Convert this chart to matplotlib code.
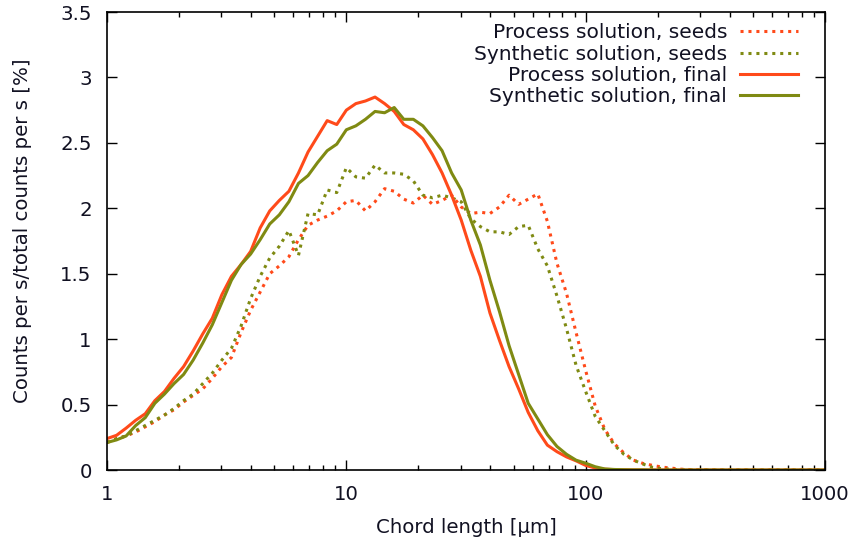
import matplotlib
matplotlib.use("Agg")
import matplotlib.pyplot as plt
from matplotlib.ticker import LogLocator, FixedLocator, NullFormatter

# Chord length channels [um] (logarithmic binning, 25 channels per decade)
chord_um = [
    1.000, 1.096, 1.202, 1.318, 1.445, 1.585, 1.738, 1.905, 2.089, 2.291,
    2.512, 2.754, 3.020, 3.311, 3.631, 3.981, 4.365, 4.786, 5.248, 5.754,
    6.310, 6.918, 7.586, 8.318, 9.120, 10.00, 10.96, 12.02, 13.18, 14.45,
    15.85, 17.38, 19.05, 20.89, 22.91, 25.12, 27.54, 30.20, 33.11, 36.31,
    39.81, 43.65, 47.86, 52.48, 57.54, 63.10, 69.18, 75.86, 83.18, 91.20,
    100.0, 109.6, 120.2, 131.8, 144.5, 158.5, 173.8, 190.5, 208.9, 229.1,
    251.2, 275.4, 302.0, 331.1, 363.1, 398.1, 436.5, 478.6, 524.8, 575.4,
    631.0, 691.8, 758.6, 831.8, 912.0, 1000.0,
]

process_seeds = [
    0.21, 0.24, 0.26, 0.29, 0.33, 0.37, 0.42, 0.46, 0.52, 0.57,
    0.62, 0.70, 0.79, 0.86, 1.05, 1.22, 1.36, 1.50, 1.56, 1.63,
    1.76, 1.87, 1.91, 1.94, 1.98, 2.05, 2.06, 1.98, 2.05, 2.15,
    2.13, 2.07, 2.04, 2.10, 2.03, 2.06, 2.10, 2.01, 1.96, 1.97,
    1.96, 2.01, 2.10, 2.03, 2.07, 2.11, 1.90, 1.58, 1.35, 1.05,
    0.76, 0.49, 0.31, 0.20, 0.13, 0.075, 0.05, 0.035, 0.022, 0.014,
    0.006, 0.003, 0.002, 0.001, 0.001, 0.0, 0.0, 0.0, 0.0, 0.0,
    0.0, 0.0, 0.0, 0.0, 0.0, 0.0,
]

synthetic_seeds = [
    0.21, 0.24, 0.26, 0.30, 0.34, 0.38, 0.42, 0.47, 0.53, 0.58,
    0.66, 0.74, 0.84, 0.93, 1.10, 1.31, 1.48, 1.62, 1.71, 1.83,
    1.64, 1.96, 1.95, 2.14, 2.12, 2.31, 2.24, 2.23, 2.33, 2.27,
    2.27, 2.26, 2.21, 2.10, 2.08, 2.10, 2.08, 2.05, 1.92, 1.86,
    1.82, 1.82, 1.80, 1.86, 1.87, 1.69, 1.56, 1.33, 1.08, 0.80,
    0.60, 0.41, 0.30, 0.19, 0.12, 0.075, 0.045, 0.02, 0.01, 0.005,
    0.002, 0.001, 0.0, 0.0, 0.0, 0.0, 0.0, 0.0, 0.0, 0.0,
    0.0, 0.0, 0.0, 0.0, 0.0, 0.0,
]

process_final = [
    0.24, 0.265, 0.32, 0.38, 0.43, 0.53, 0.60, 0.70, 0.79, 0.91,
    1.04, 1.16, 1.34, 1.48, 1.57, 1.67, 1.85, 1.98, 2.06, 2.13,
    2.27, 2.43, 2.55, 2.67, 2.64, 2.75, 2.80, 2.82, 2.85, 2.80,
    2.74, 2.64, 2.60, 2.53, 2.41, 2.27, 2.10, 1.91, 1.68, 1.48,
    1.20, 0.99, 0.79, 0.62, 0.44, 0.30, 0.19, 0.14, 0.10, 0.07,
    0.035, 0.015, 0.006, 0.003, 0.002, 0.001, 0.001, 0.0, 0.0, 0.0,
    0.0, 0.0, 0.0, 0.0, 0.0, 0.0, 0.0, 0.0, 0.0, 0.0,
    0.0, 0.0, 0.0, 0.0, 0.0, 0.0,
]

synthetic_final = [
    0.21, 0.23, 0.26, 0.34, 0.40, 0.51, 0.58, 0.66, 0.73, 0.84,
    0.97, 1.11, 1.28, 1.45, 1.57, 1.65, 1.76, 1.88, 1.95, 2.05,
    2.19, 2.25, 2.35, 2.44, 2.49, 2.60, 2.63, 2.68, 2.74, 2.73,
    2.77, 2.68, 2.68, 2.63, 2.54, 2.44, 2.27, 2.14, 1.91, 1.72,
    1.45, 1.21, 0.95, 0.73, 0.51, 0.39, 0.27, 0.18, 0.12, 0.075,
    0.052, 0.025, 0.008, 0.004, 0.002, 0.001, 0.001, 0.0, 0.0, 0.0,
    0.0, 0.0, 0.0, 0.0, 0.0, 0.0, 0.0, 0.0, 0.0, 0.0,
    0.0, 0.0, 0.0, 0.0, 0.0, 0.0,
]

labels = [
    "Process solution, seeds",
    "Synthetic solution, seeds",
    "Process solution, final",
    "Synthetic solution, final",
]

RED = "#ff4a1a"
OLIVE = "#7f8a12"
TEXT = "#111122"

plt.rcParams["font.family"] = ["DejaVu Sans"]
plt.rcParams["font.size"] = 14.2

fig = plt.figure(figsize=(8.57, 5.40), dpi=100)
ax = fig.add_axes([107 / 857, 70 / 540, (825 - 107) / 857, (470 - 12) / 540])

dots = (0, (1, 1.6))
ax.plot(chord_um, process_seeds, color=RED, lw=2.2, ls=dots, label=labels[0])
ax.plot(chord_um, synthetic_seeds, color=OLIVE, lw=2.2, ls=dots, label=labels[1])
ax.plot(chord_um, process_final, color=RED, lw=2.2, label=labels[2])
ax.plot(chord_um, synthetic_final, color=OLIVE, lw=2.2, label=labels[3])

ax.set_xscale("log")
ax.set_xlim(1, 1000)
ax.set_ylim(0, 3.5)

ax.xaxis.set_major_locator(FixedLocator([1, 10, 100, 1000]))
ax.set_xticklabels(["1", "10", "100", "1000"])
ax.xaxis.set_minor_locator(LogLocator(base=10, subs=range(2, 10)))
ax.xaxis.set_minor_formatter(NullFormatter())
yt = [0, 0.5, 1, 1.5, 2, 2.5, 3, 3.5]
ax.set_yticks(yt)
ax.set_yticklabels(["0", "0.5", "1", "1.5", "2", "2.5", "3", "3.5"])

ax.tick_params(which="both", direction="in", top=True, right=True,
               colors="black", labelcolor=TEXT, width=1.0)
ax.tick_params(which="major", length=7.5)
ax.tick_params(which="minor", length=3.8)
ax.tick_params(axis="x", which="major", pad=11)
ax.tick_params(axis="y", which="major", pad=11)
for s in ax.spines.values():
    s.set_linewidth(1.2)
    s.set_color("black")

ax.set_xlabel("Chord length [μm]", color=TEXT, labelpad=10)
ax.set_ylabel("Counts per s/total counts per s [%]", color=TEXT)
ax.yaxis.set_label_coords(-0.104, 0.522)

leg = ax.legend(loc="upper right", bbox_to_anchor=(0.962, 0.975),
                markerfirst=False, frameon=False, fontsize=14.5,
                handlelength=2.85, handletextpad=0.65, labelspacing=0.11,
                borderaxespad=0.0, borderpad=0.0)
for t in leg.get_texts():
    t.set_color(TEXT)

fig.savefig("out.png", dpi=100)
